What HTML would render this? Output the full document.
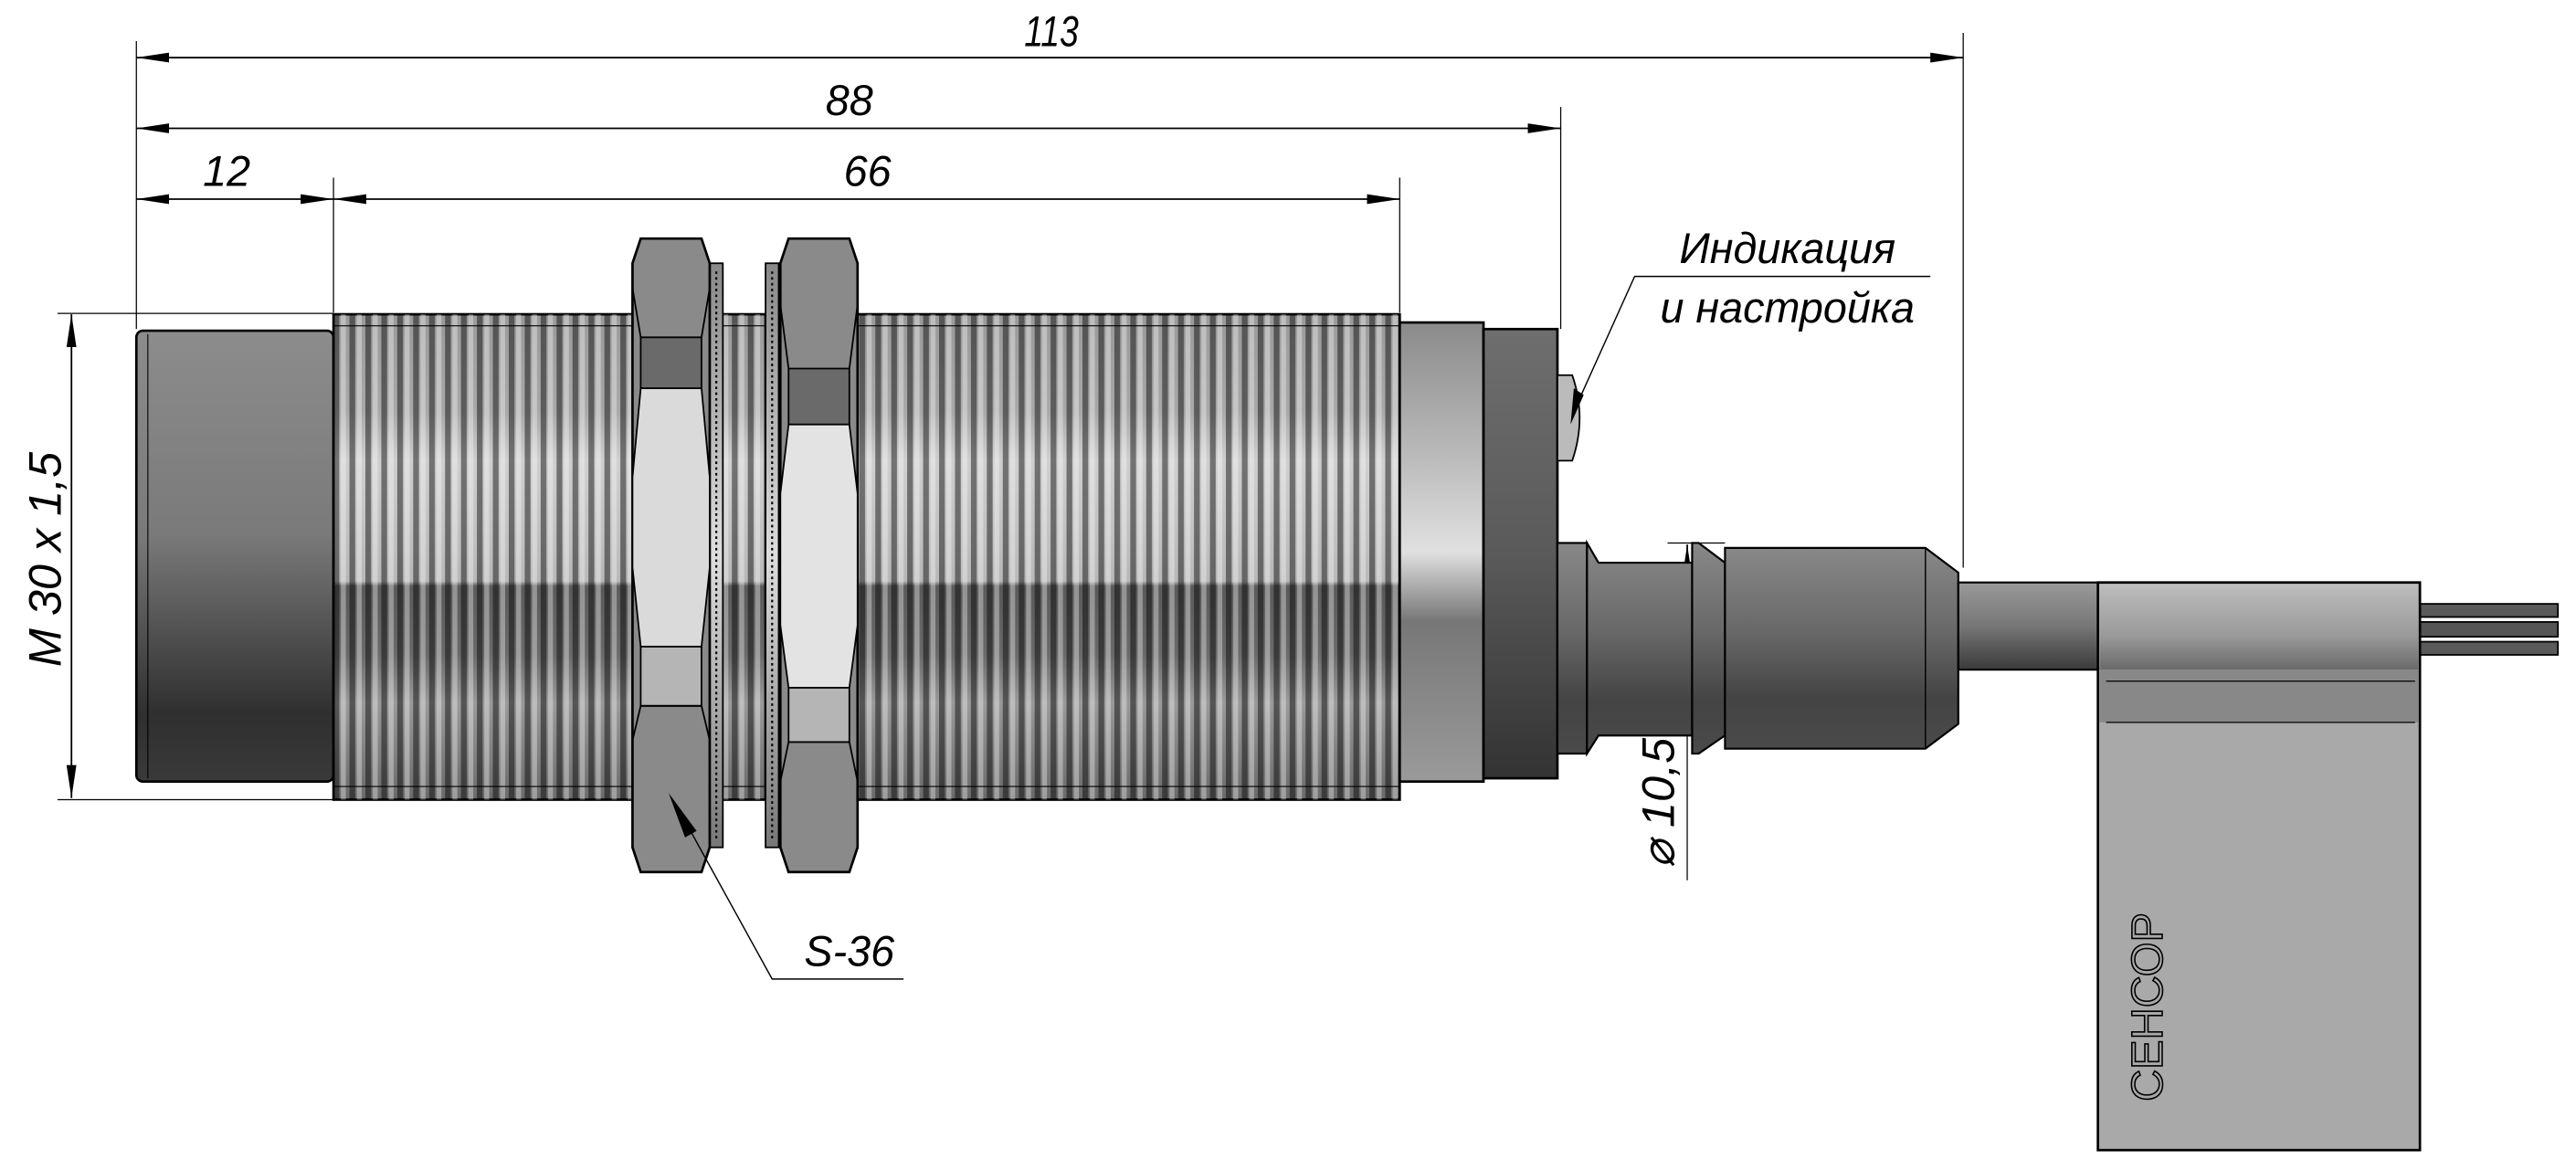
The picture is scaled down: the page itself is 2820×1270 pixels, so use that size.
<!DOCTYPE html>
<html><head><meta charset="utf-8"><style>
html,body{margin:0;padding:0;background:#fff;}
svg{display:block}
text{font-family:"Liberation Sans",sans-serif;font-style:italic;fill:#000}
</style></head><body>
<svg width="2820" height="1270" viewBox="0 0 1568 705" preserveAspectRatio="none" xmlns="http://www.w3.org/2000/svg">
<defs>
<linearGradient id="cap" x1="0" y1="0" x2="0" y2="1">
<stop offset="0" stop-color="#8c8c8c"/><stop offset="0.45" stop-color="#7a7a7a"/><stop offset="0.6" stop-color="#5e5e5e"/><stop offset="0.85" stop-color="#2f2f2f"/><stop offset="1" stop-color="#3a3a3a"/>
</linearGradient>
<linearGradient id="body" x1="0" y1="0" x2="0" y2="1">
<stop offset="0" stop-color="#9a9a9a"/><stop offset="0.2" stop-color="#a8a8a8"/><stop offset="0.3" stop-color="#cfcfcf"/><stop offset="0.55" stop-color="#b8b8b8"/><stop offset="0.56" stop-color="#5a5a5a"/><stop offset="0.7" stop-color="#6a6a6a"/><stop offset="0.8" stop-color="#9a9a9a"/><stop offset="1" stop-color="#6a6a6a"/>
</linearGradient>
<pattern id="thr" x="203" y="0" width="9.7" height="10" patternUnits="userSpaceOnUse">
<rect x="0" y="0" width="3.5" height="10" fill="#000" opacity="0.45"/>
<rect x="4.5" y="0" width="3" height="10" fill="#fff" opacity="0.35"/>
</pattern>
<linearGradient id="ring" x1="0" y1="0" x2="0" y2="1">
<stop offset="0" stop-color="#8a8a8a"/><stop offset="0.3" stop-color="#bcbcbc"/><stop offset="0.5" stop-color="#e0e0e0"/><stop offset="0.65" stop-color="#777"/><stop offset="1" stop-color="#9a9a9a"/>
</linearGradient>
<linearGradient id="dark" x1="0" y1="0" x2="0" y2="1">
<stop offset="0" stop-color="#6e6e6e"/><stop offset="0.5" stop-color="#5a5a5a"/><stop offset="1" stop-color="#333"/>
</linearGradient>
<linearGradient id="gl" x1="0" y1="0" x2="0" y2="1">
<stop offset="0" stop-color="#888"/><stop offset="0.4" stop-color="#6a6a6a"/><stop offset="0.75" stop-color="#444"/><stop offset="1" stop-color="#4a4a4a"/>
</linearGradient>
<linearGradient id="cab" x1="0" y1="0" x2="0" y2="1">
<stop offset="0" stop-color="#999"/><stop offset="0.5" stop-color="#777"/><stop offset="1" stop-color="#3a3a3a"/>
</linearGradient>
<linearGradient id="flagtop" x1="0" y1="0" x2="0" y2="1">
<stop offset="0" stop-color="#bdbdbd"/><stop offset="0.6" stop-color="#9a9a9a"/><stop offset="1" stop-color="#6a6a6a"/>
</linearGradient>
<linearGradient id="washer" x1="0" y1="0" x2="0" y2="1">
<stop offset="0" stop-color="#888"/><stop offset="0.5" stop-color="#ddd"/><stop offset="1" stop-color="#777"/>
</linearGradient>
<marker id="a" viewBox="0 0 20 8" refX="20" refY="4" markerWidth="20" markerHeight="8" markerUnits="userSpaceOnUse" orient="auto"><path d="M0,1 L20,4 L0,7 z" fill="#000"/></marker>
<marker id="b" viewBox="0 0 20 8" refX="0" refY="4" markerWidth="20" markerHeight="8" markerUnits="userSpaceOnUse" orient="auto"><path d="M20,1 L0,4 L20,7 z" fill="#000"/></marker>
</defs>

<g stroke="#000" stroke-width="0.7" fill="none">
<line x1="83" y1="25" x2="83" y2="200"/>
<line x1="1195" y1="20" x2="1195" y2="345"/>
<line x1="950" y1="65" x2="950" y2="200"/>
<line x1="203" y1="108" x2="203" y2="190"/>
<line x1="852" y1="108" x2="852" y2="190"/>
<line x1="35" y1="190.5" x2="203" y2="190.5"/>
<line x1="35" y1="486" x2="203" y2="486"/>
<line x1="1015" y1="330" x2="1050" y2="330"/>
<line x1="1015" y1="435" x2="1050" y2="435"/>
</g>
<g stroke="#000" stroke-width="1">
<line x1="83" y1="35" x2="1195" y2="35" marker-start="url(#b)" marker-end="url(#a)"/>
<line x1="83" y1="78" x2="950" y2="78" marker-start="url(#b)" marker-end="url(#a)"/>
<line x1="83" y1="121" x2="203" y2="121" marker-start="url(#b)" marker-end="url(#a)"/>
<line x1="203" y1="121" x2="852" y2="121" marker-start="url(#b)" marker-end="url(#a)"/>
<line x1="43.5" y1="191" x2="43.5" y2="485" marker-start="url(#b)" marker-end="url(#a)"/>
<line x1="1027" y1="331" x2="1027" y2="434" marker-start="url(#b)" marker-end="url(#a)"/>
<line x1="1027" y1="434" x2="1027" y2="535" stroke-width="0.7"/>
</g>
<text x="640" y="28" font-size="26" text-anchor="middle" transform="translate(640 0) scale(0.8 1) translate(-640 0)">113</text>
<text x="517" y="70" font-size="26" text-anchor="middle">88</text>
<text x="138" y="113" font-size="26" text-anchor="middle">12</text>
<text x="528" y="113" font-size="26" text-anchor="middle">66</text>
<text transform="translate(37 340) rotate(-90)" font-size="28" text-anchor="middle">M 30 x 1,5</text>
<text transform="translate(1019 488) rotate(-90)" font-size="28" text-anchor="middle">⌀ 10,5</text>

<rect x="83" y="201" width="120" height="274" rx="4" fill="url(#cap)" stroke="#000" stroke-width="1.5"/>
<line x1="90" y1="203" x2="90" y2="473" stroke="#000" stroke-width="0.6"/>
<rect x="203" y="191" width="649" height="295" fill="url(#body)" stroke="#000" stroke-width="1.5"/>
<rect x="203" y="191" width="649" height="295" fill="url(#thr)"/>
<line x1="203" y1="198" x2="852" y2="198" stroke="#000" stroke-width="0.6"/>
<line x1="203" y1="478" x2="852" y2="478" stroke="#000" stroke-width="0.6"/>
<rect x="852" y="196" width="51" height="279" fill="url(#ring)" stroke="#000" stroke-width="1.5"/>
<rect x="903" y="200" width="45" height="273" fill="url(#dark)" stroke="#000" stroke-width="1.5"/>
<path d="M948,228 L957,228 Q966,254 957,280 L948,280 Z" fill="#bbb" stroke="#000" stroke-width="1"/>

<rect x="432" y="160" width="8" height="355" fill="url(#washer)" stroke="#000" stroke-width="1"/>
<rect x="466" y="160" width="8" height="355" fill="url(#washer)" stroke="#000" stroke-width="1"/>
<path d="M436,165 v345 M470,165 v345" stroke="#000" stroke-width="1.2" stroke-dasharray="1.5 2"/>

<path d="M390,145 L427,145 L432,160 L432,515 L427,530 L390,530 L385,515 L385,160 Z" fill="#8a8a8a" stroke="#000" stroke-width="1.5"/>
<path d="M390,205 L427,205 L427,236 L390,236 Z" fill="#6a6a6a" stroke="#000" stroke-width="1"/>
<path d="M390,236 L427,236 L432,290 L432,345 L427,393 L390,393 L385,345 L385,290 Z" fill="#dadada" stroke="#000" stroke-width="1"/>
<path d="M390,393 L427,393 L427,429 L390,429 Z" fill="#b5b5b5" stroke="#000" stroke-width="1"/>
<path d="M390,429 L427,429 L432,450 M385,450 L390,429" fill="none" stroke="#000" stroke-width="1"/>
<path d="M385,175 L390,205 M432,175 L427,205" stroke="#000" stroke-width="1"/>
<path d="M480,145 L517,145 L522,160 L522,515 L517,530 L480,530 L475,515 L475,160 Z" fill="#8a8a8a" stroke="#000" stroke-width="1.5"/>
<path d="M480,224 L517,224 L517,258 L480,258 Z" fill="#6a6a6a" stroke="#000" stroke-width="1"/>
<path d="M480,258 L517,258 L522,300 L522,380 L517,418 L480,418 L475,380 L475,300 Z" fill="#e3e3e3" stroke="#000" stroke-width="1"/>
<path d="M480,418 L517,418 L517,451 L480,451 Z" fill="#b5b5b5" stroke="#000" stroke-width="1"/>
<path d="M475,185 L480,224 M522,185 L517,224 M475,475 L480,451 M522,475 L517,451" stroke="#000" stroke-width="1"/>

<rect x="948" y="330" width="18" height="128" fill="url(#gl)" stroke="#000" stroke-width="1.2"/>
<path d="M966,330 L973,342 L1030,342 L1030,447 L973,447 L966,458 Z" fill="url(#gl)" stroke="#000" stroke-width="1.2"/>
<path d="M1030,330 L1034,330 L1050,342 L1050,447 L1034,458 L1030,458 Z" fill="url(#gl)" stroke="#000" stroke-width="1.2"/>
<path d="M1050,333 L1172,333 L1192,348 L1192,440 L1172,455 L1050,455 Z" fill="url(#gl)" stroke="#000" stroke-width="1.2"/>
<line x1="1172" y1="333" x2="1172" y2="455" stroke="#000" stroke-width="0.8"/>
<rect x="1192" y="354" width="85" height="53" fill="url(#cab)" stroke="#000" stroke-width="1.2"/>

<rect x="1473" y="367" width="84" height="8" fill="#5a5a5a" stroke="#000" stroke-width="1"/>
<rect x="1473" y="378" width="84" height="9" fill="#555" stroke="#000" stroke-width="1"/>
<rect x="1473" y="390" width="84" height="8" fill="#5a5a5a" stroke="#000" stroke-width="1"/>

<rect x="1277" y="354" width="196" height="345" fill="#a9a9a9" stroke="#000" stroke-width="1.5"/>
<rect x="1278" y="355" width="194" height="52" fill="url(#flagtop)"/>
<rect x="1278" y="407" width="194" height="32" fill="#888"/>
<line x1="1282" y1="414" x2="1470" y2="414" stroke="#000" stroke-width="0.7"/>
<line x1="1282" y1="439" x2="1470" y2="439" stroke="#000" stroke-width="0.7"/>
<text transform="translate(1316 612) rotate(-90)" font-size="27" text-anchor="middle" style="font-style:normal;fill:none;stroke:#000;stroke-width:0.9">СЕНСОР</text>

<g stroke="#000" stroke-width="0.8" fill="none">
<polyline points="958,250 995,168 1175,168"/>
<polyline points="412,490 470,595 550,595"/>
</g>
<path d="M956,258 L958,236 L964,240 Z" fill="#000"/>
<path d="M407,482 L424,505 L417,509 Z" fill="#000"/>
<text x="1088" y="160" font-size="26" text-anchor="middle">Индикация</text>
<text x="1088" y="196" font-size="26" text-anchor="middle">и настройка</text>
<text x="517" y="587" font-size="26" text-anchor="middle">S-36</text>
</svg>
</body></html>
